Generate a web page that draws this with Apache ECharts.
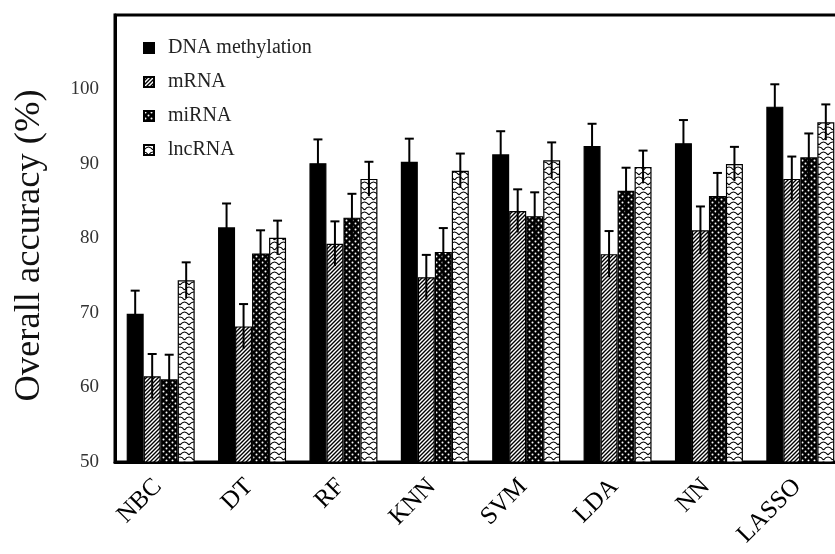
<!DOCTYPE html>
<html>
<head>
<meta charset="utf-8">
<script src="https://cdn.jsdelivr.net/npm/echarts@6/dist/echarts.min.js"></script>
<style>html,body{margin:0;padding:0;background:#fff}#c{width:835px;height:554px}</style>
</head>
<body>
<div id="c"></div>
<script>
var categories = ['NBC', 'DT', 'RF', 'KNN', 'SVM', 'LDA', 'NN', 'LASSO'];
var seriesNames = ['DNA methylation', 'mRNA', 'miRNA', 'lncRNA'];
var dna      = [69.9, 81.5, 90.1, 90.3, 91.3, 92.4, 92.8, 97.7];
var dnaErr   = [3.1, 3.2, 3.2, 3.1, 3.1, 3.0, 3.1, 3.0];
var mrna     = [61.5, 68.2, 79.3, 74.8, 83.7, 77.9, 81.1, 88.0];
var mrnaErr  = [3.0, 3.0, 3.0, 3.0, 2.9, 3.1, 3.2, 3.0];
var mirna    = [61.1, 78.0, 82.8, 78.2, 83.0, 86.4, 85.7, 90.9];
var mirnaErr = [3.3, 3.1, 3.2, 3.2, 3.2, 3.1, 3.1, 3.2];
var lnc      = [74.4, 80.1, 88.0, 89.1, 90.5, 89.6, 90.0, 95.6];
var lncErr   = [2.4, 2.3, 2.3, 2.3, 2.4, 2.2, 2.3, 2.4];
var yTicks = [50, 60, 70, 80, 90, 100];

var values = [dna, mrna, mirna, lnc];
var errs = [dnaErr, mrnaErr, mirnaErr, lncErr];

function makeCanvas(w, h, draw) {
  var c = document.createElement('canvas');
  c.width = w; c.height = h;
  var ctx = c.getContext('2d');
  draw(ctx, w, h);
  return c;
}
// hatched (mRNA)
var hatch = makeCanvas(4, 4, function (ctx, w, h) {
  ctx.fillStyle = '#fff'; ctx.fillRect(0, 0, w, h);
  ctx.strokeStyle = '#000'; ctx.lineWidth = 1.4;
  ctx.beginPath();
  ctx.moveTo(-1, h + 1); ctx.lineTo(w + 1, -1);
  ctx.moveTo(-1, 1); ctx.lineTo(1, -1);
  ctx.moveTo(w - 1, h + 1); ctx.lineTo(w + 1, h - 1);
  ctx.stroke();
});
// dotted (miRNA)
var dots = makeCanvas(6, 6, function (ctx, w, h) {
  ctx.fillStyle = '#000'; ctx.fillRect(0, 0, w, h);
  ctx.fillStyle = '#fff';
  ctx.beginPath(); ctx.arc(1.5, 1.5, 1.0, 0, Math.PI * 2); ctx.fill();
  ctx.beginPath(); ctx.arc(4.5, 4.5, 1.0, 0, Math.PI * 2); ctx.fill();
});
// scallops (lncRNA)
var scale = makeCanvas(9, 10, function (ctx, w, h) {
  ctx.fillStyle = '#fff'; ctx.fillRect(0, 0, w, h);
  ctx.strokeStyle = '#000'; ctx.lineWidth = 1.2;
  ctx.beginPath();
  ctx.moveTo(0, 5); ctx.quadraticCurveTo(4.5, -1, 9, 5);
  ctx.moveTo(-4.5, 10); ctx.quadraticCurveTo(0, 4, 4.5, 10);
  ctx.moveTo(4.5, 10); ctx.quadraticCurveTo(9, 4, 13.5, 10);
  ctx.moveTo(-4.5, 0); ctx.quadraticCurveTo(0, -6, 4.5, 0);
  ctx.moveTo(4.5, 0); ctx.quadraticCurveTo(9, -6, 13.5, 0);
  ctx.stroke();
});

var fills = [
  '#000',
  { image: hatch, repeat: 'repeat' },
  { image: dots, repeat: 'repeat' },
  { image: scale, repeat: 'repeat' }
];

var BAR_W = 17;
var serif = 'Liberation Serif, Times New Roman, serif';

var series = [];
seriesNames.forEach(function (name, i) {
  series.push({
    name: name,
    type: 'bar',
    barWidth: BAR_W,
    barGap: '0%',
    data: values[i],
    itemStyle: { color: fills[i], borderColor: '#000', borderWidth: 1.2 },
    z: 2
  });
});
seriesNames.forEach(function (name, i) {
  var offset = (i - 1.5) * BAR_W;
  series.push({
    name: 'err' + i,
    type: 'custom',
    z: 5,
    clip: false,
    data: values[i].map(function (v, k) { return [k, v, errs[i][k]]; }),
    renderItem: function (params, api) {
      var k = api.value(0), v = api.value(1), e = api.value(2);
      var p = api.coord([k, v]);
      var t = api.coord([k, v + e]);
      var b = api.coord([k, v - e]);
      var x = p[0] + offset;
      var st = { stroke: '#000', lineWidth: 2 };
      return {
        type: 'group',
        children: [
          { type: 'line', shape: { x1: x, y1: b[1], x2: x, y2: t[1] }, style: st },
          { type: 'line', shape: { x1: x - 4.5, y1: t[1], x2: x + 4.5, y2: t[1] }, style: st }
        ]
      };
    }
  });
});

var chart = echarts.init(document.getElementById('c'), null, { renderer: 'canvas' });
chart.setOption({
  animation: false,
  backgroundColor: '#fff',
  grid: {
    left: 115, top: 15, width: 731, height: 447,
    outerBoundsMode: 'none',
    containLabel: false,
    show: true, borderColor: '#000', borderWidth: 3, backgroundColor: 'transparent'
  },
  legend: {
    data: seriesNames,
    orient: 'vertical',
    left: 143,
    top: 38,
    padding: 0,
    itemWidth: 10,
    itemHeight: 10,
    itemGap: 14,
    icon: 'rect',
    textStyle: { fontFamily: serif, fontSize: 20, color: '#222', padding: [0, 0, 0, 9] }
  },
  xAxis: {
    type: 'category',
    data: categories,
    axisLine: { lineStyle: { color: '#000', width: 3 } },
    axisTick: { show: false },
    axisLabel: { rotate: 45, fontFamily: serif, fontSize: 25, color: '#000', margin: 18, padding: [0, 4, 0, 0] }
  },
  yAxis: {
    type: 'value',
    min: 50,
    max: 110,
    interval: 10,
    name: 'Overall accuracy (%)',
    nameLocation: 'middle',
    nameGap: 67,
    nameTextStyle: { fontFamily: serif, fontSize: 36.5, color: '#111', padding: [0, 14, 0, 0] },
    axisLine: { show: true, lineStyle: { color: '#000', width: 3 } },
    axisTick: { show: false },
    splitLine: { show: false },
    axisLabel: {
      fontFamily: serif, fontSize: 19, color: '#333', margin: 16,
      formatter: function (v) { return yTicks.indexOf(v) >= 0 ? String(v) : ''; }
    }
  },
  series: series
});
</script>
</body>
</html>
